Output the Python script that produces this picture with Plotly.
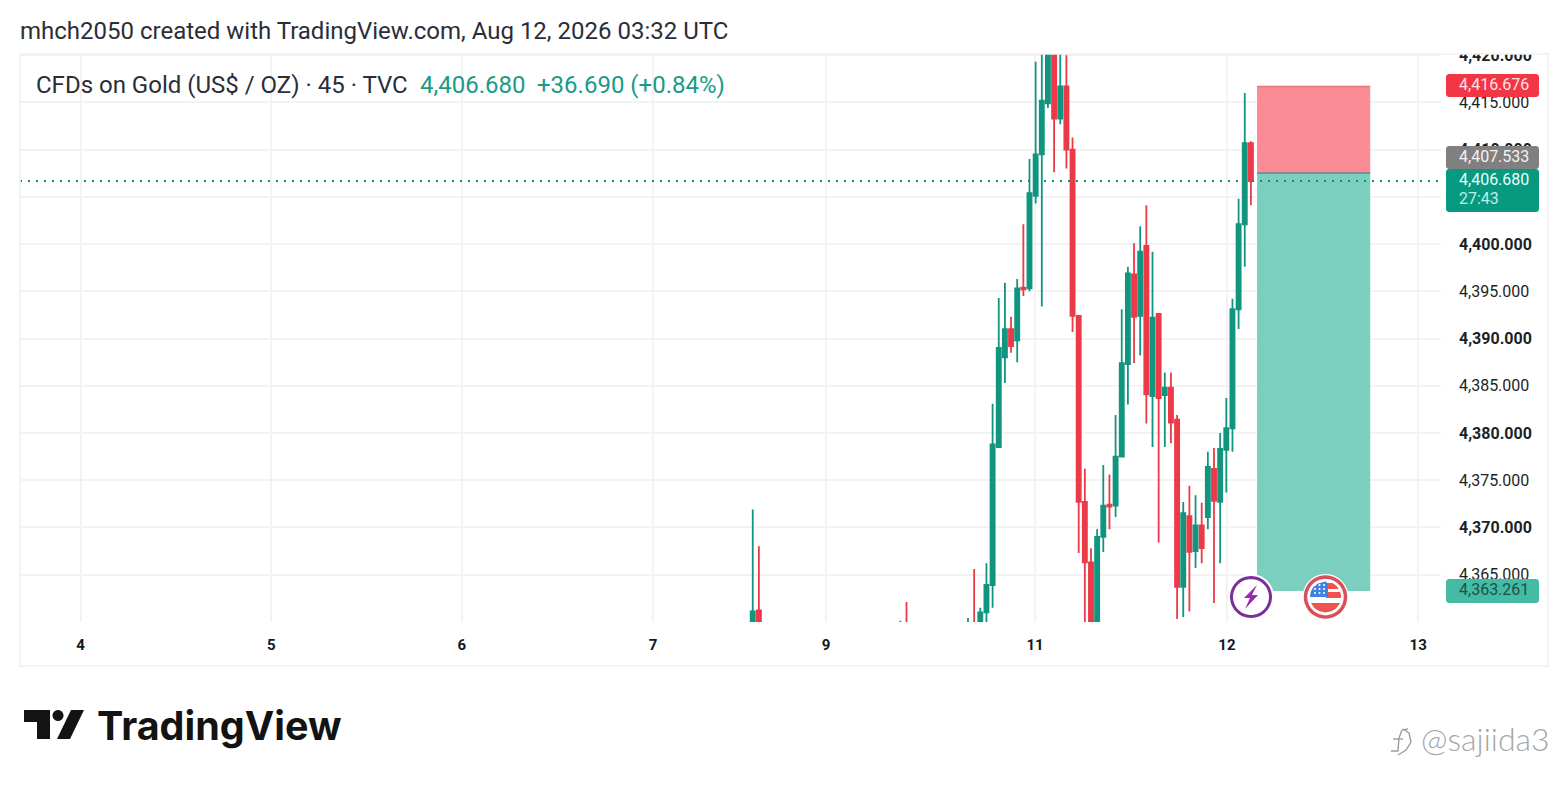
import math
import plotly.graph_objects as go

# ---------- data ----------
bar_index = [-35, -34, -11, -10] + list(range(0, 47))
opens = [4358.0, 4361.2, 4355.0, 4358.0, 4356.0, 4358.0, 4358.0, 4361.0, 4363.9, 4378.5, 4388.0, 4391.0, 4389.8, 4395.4,
         4395.3, 4405.1, 4409.5, 4414.9, 4424.0, 4413.3, 4416.7, 4410.0, 4392.4, 4372.7, 4366.3, 4358.0, 4369.0, 4372.4,
         4372.3, 4377.5, 4387.3, 4396.8, 4392.4, 4399.8, 4383.9, 4392.6, 4384.0, 4384.8, 4381.4, 4363.7, 4371.2, 4367.5,
         4370.2, 4371.1, 4376.2, 4372.7, 4378.2, 4380.5, 4393.1, 4402.1, 4410.7]
highs = [4371.9, 4368.0, 4360.1, 4362.1, 4360.4, 4365.6, 4361.5, 4366.2, 4383.1, 4394.3, 4395.9, 4392.3, 4396.3, 4402.1,
         4409.0, 4419.3, 4424.0, 4426.0, 4426.0, 4424.0, 4420.0, 4411.3, 4392.4, 4376.2, 4367.8, 4369.8, 4376.6, 4375.6,
         4381.9, 4393.1, 4397.6, 4400.1, 4401.9, 4404.1, 4399.2, 4392.6, 4386.4, 4386.4, 4381.9, 4372.7, 4374.4, 4373.4,
         4372.6, 4378.0, 4378.4, 4380.0, 4383.7, 4394.2, 4404.8, 4416.0, 4410.9]
lows = [4357.0, 4356.0, 4354.0, 4354.0, 4355.0, 4354.0, 4357.0, 4359.7, 4361.5, 4378.4, 4385.3, 4388.5, 4387.5, 4394.5,
        4395.0, 4404.3, 4393.4, 4414.4, 4407.6, 4412.7, 4408.0, 4390.7, 4367.3, 4356.0, 4356.0, 4356.0, 4367.4, 4369.8,
        4371.1, 4377.4, 4383.0, 4387.4, 4388.2, 4381.0, 4378.5, 4368.4, 4378.5, 4378.9, 4360.3, 4360.5, 4361.1, 4365.7,
        4366.2, 4369.8, 4362.0, 4366.2, 4373.7, 4378.0, 4391.0, 4397.6, 4404.1]
closes = [4361.1, 4357.0, 4357.0, 4356.0, 4358.0, 4356.0, 4361.0, 4363.9, 4378.8, 4389.0, 4391.0, 4389.2, 4395.3, 4395.2,
          4405.4, 4409.5, 4415.2, 4424.0, 4413.3, 4416.7, 4410.0, 4392.4, 4372.7, 4366.3, 4358.0, 4369.0, 4372.3, 4372.2,
          4377.5, 4387.4, 4396.9, 4392.3, 4399.2, 4384.1, 4392.2, 4383.7, 4384.8, 4381.1, 4363.7, 4371.5, 4367.4, 4370.2,
          4367.8, 4376.4, 4372.8, 4378.3, 4380.5, 4393.1, 4402.1, 4410.7, 4406.68]

day_ticks = [-144.3, -113.3, -82.3, -51.2, -23.1, 10.9, 42.1, 73.2]
day_labels = ["4", "5", "6", "7", "9", "11", "12", "13"]
price_ticks = [4365, 4370, 4375, 4380, 4385, 4390, 4395, 4400, 4405, 4410, 4415, 4420]
price_labels = ["4,365.000", "<b>4,370.000</b>", "4,375.000", "<b>4,380.000</b>", "4,385.000", "<b>4,390.000</b>",
                "4,395.000", "<b>4,400.000</b>", "", "<b>4,410.000</b>", "4,415.000", "<b>4,420.000</b>"]

stop_price, entry_price, last_price, target_price = 4416.676, 4407.533, 4406.68, 4363.261
box_start, box_end = 47.0, 65.4

# ---------- page layout helpers (screen pixels to paper units) ----------
L, R, T, B = 20, 1441, 54, 622
GREEN, RED = "#11957F", "#EC3A49"
def px(x): return (x - L) / (R - L)
def py(y): return (B - y) / (B - T)

def path(points, close=True):
    s = "M" + " L".join(f"{px(x):.5f},{py(y):.5f}" for x, y in points)
    return s + (" Z" if close else "")

def rounded(x0, y0, x1, y1, r=3):
    pts = []
    for cx, cy, a0 in ((x1 - r, y0 + r, -90), (x1 - r, y1 - r, 0), (x0 + r, y1 - r, 90), (x0 + r, y0 + r, 180)):
        for k in range(5):
            a = math.radians(a0 + k * 22.5)
            pts.append((cx + r * math.cos(a), cy + r * math.sin(a)))
    return path(pts)

def circle(cx, cy, r, n=48):
    return path([(cx + r * math.cos(2 * math.pi * i / n), cy + r * math.sin(2 * math.pi * i / n)) for i in range(n)])

def band(cx, cy, r, y0, y1, x_min=None, x_max=None):
    """Horizontal stripe of a flag, clipped to its circle."""
    left, right = [], []
    for i in range(9):
        y = y0 + (y1 - y0) * i / 8
        w = math.sqrt(max(r * r - (y - cy) ** 2, 0))
        a = cx - w if x_min is None else max(cx - w, x_min)
        b = cx + w if x_max is None else min(cx + w, x_max)
        left.append((a, y))
        right.append((b, y))
    return path(right + left[::-1])

shapes = []
def add(p, fill, line=None, width=0, layer="above"):
    shapes.append(dict(type="path", xref="paper", yref="paper", path=p, fillcolor=fill, layer=layer,
                       line=dict(color=line or "rgba(0,0,0,0)", width=width)))

# position boxes
shapes += [
    dict(type="rect", xref="x", yref="y", x0=box_start, x1=box_end, y0=entry_price, y1=stop_price,
         fillcolor="#FB8C95", line=dict(width=0), layer="above"),
    dict(type="rect", xref="x", yref="y", x0=box_start, x1=box_end, y0=target_price, y1=entry_price,
         fillcolor="#7ACFBF", line=dict(width=0), layer="above"),
    dict(type="line", xref="x", yref="y", x0=box_start, x1=box_end, y0=stop_price, y1=stop_price,
         line=dict(color="#E8737D", width=1.5), layer="above"),
    dict(type="line", xref="x", yref="y", x0=box_start, x1=box_end, y0=entry_price, y1=entry_price,
         line=dict(color="#8A8A8A", width=2), layer="above"),
    dict(type="line", xref="paper", yref="y", x0=0, x1=1, y0=last_price, y1=last_price,
         line=dict(color="#0E8F7C", width=2, dash="2px,6px"), layer="above"),
]

# mask over the clipped top tick label, then price tags
add(path([(1450, 36), (1540, 36), (1540, 54), (1450, 54)]), "white")
add(rounded(1446, 74, 1539, 97), "#F23645")
add(rounded(1446, 146, 1539, 169), "#808080")
add(rounded(1446, 169, 1539, 212), "#089981")
add(rounded(1446, 579, 1539, 603), "#44BBA4")

# outer frame
add(path([(20, 54), (1548, 54), (1548, 666), (20, 666)]), "rgba(0,0,0,0)", "#F1F1F1", 1.5)

# lightning icon
add(circle(1251, 597, 23), "white")
add(circle(1251, 597, 19.5), "white", "#7B2F98", 3)
add(path([(1257, 585), (1244, 598), (1250, 598), (1245, 609), (1258, 595), (1252, 595)]), "#9C27B0")

# flag icon
fx, fy, fr = 1325.5, 597, 20
add(circle(fx, fy, 23), "white")
add(band(fx, fy, 15.5, 583, 589, 1326), "#EF5350")
add(band(fx, fy, 15.5, 592, 598, 1326), "#EF5350")
add(band(fx, fy, 15.5, 581.5, 597, None, 1328), "#3F80E0")
add(band(fx, fy, 15.5, 603, 612.5), "#EF5350")
add(circle(fx, fy, fr), "rgba(0,0,0,0)", "#D9505A", 3.5)
for yy in (585, 589, 593):
    for xx in (1315, 1319.5, 1324):
        add(circle(xx, yy, 1.1, 8), "white")

# TradingView logo mark
INK = "#131313"
add(path([(24, 710), (50, 710), (50, 739), (37, 739), (37, 722), (24, 722)]), INK)
add(circle(58, 715.5, 5.5), INK)
add(path([(71, 710), (84, 710), (70, 739), (57, 739)]), INK)

# watermark mark
MARK = "#9E9E9E"
add(path([(1391, 751), (1398, 751), (1399, 738), (1402, 730), (1408, 729)], close=False), "rgba(0,0,0,0)", MARK, 1.4)
add(path([(1403, 729), (1409, 733), (1411, 742), (1406, 750), (1398, 755)], close=False), "rgba(0,0,0,0)", MARK, 1.4)
add(path([(1393, 739), (1403, 739)], close=False), "rgba(0,0,0,0)", MARK, 1.4)

def note(x, y, text, size, color, anchor="left", family="Roboto", weight=None):
    font = dict(family=family, size=size, color=color)
    if weight:
        font["weight"] = weight
    return dict(xref="paper", yref="paper", x=px(x), y=py(y), text=text, showarrow=False, xanchor=anchor,
                yanchor="middle", align="left", font=font)

annotations = [
    note(18, 31, "mhch2050 created with TradingView.com, Aug 12, 2026 03:32 UTC", 24, "#2A2E39"),
    note(34, 85, "CFDs on Gold (US$ / OZ) · 45 · TVC", 24, "#2A2E39"),
    note(418, 85, "4,406.680", 24, "#1A9A87"),
    note(535, 85, "+36.690 (+0.84%)", 24, "#1A9A87"),
    note(1457, 85, "4,416.676", 16, "#FFE3E5"),
    note(1457, 156.5, "4,407.533", 16, "#F2F2F2"),
    note(1457, 179.5, "4,406.680", 16, "#E8FFFA"),
    note(1457, 198.5, "27:43", 16, "#BDEFE4"),
    note(1457, 589, "4,363.261", 16, "#1E4F49"),
    note(94.5, 726, "TradingView", 39.5, "#131313", family="Inter", weight=700),
    note(1419, 738, "@sajiida3", 32, "#A6A6A6", family="Lato", weight=300),
]

fig = go.Figure(go.Candlestick(
    x=bar_index, open=opens, high=highs, low=lows, close=closes,
    increasing=dict(line=dict(color=GREEN, width=1.8), fillcolor=GREEN),
    decreasing=dict(line=dict(color=RED, width=1.8), fillcolor=RED),
    whiskerwidth=0, hoverinfo="skip",
))
fig.update_layout(
    width=1568, height=786, autosize=False, showlegend=False,
    paper_bgcolor="white", plot_bgcolor="white", boxgap=0.05,
    margin=dict(l=L, r=1568 - R, t=T, b=786 - B, pad=0),
    font=dict(family="Roboto", color="#131722"),
    shapes=shapes, annotations=annotations,
    xaxis=dict(range=[(L - 968) / 6.15, (R - 968) / 6.15], rangeslider=dict(visible=False),
               tickmode="array", tickvals=day_ticks, ticktext=[f"<b>{t}</b>" for t in day_labels],
               tickfont=dict(size=15, color="#131722"), ticks="", showline=False, zeroline=False,
               showgrid=True, gridcolor="#F3F3F3", gridwidth=1.5, ticklabelstandoff=12),
    yaxis=dict(range=[4359.98, 4420.13], side="right", tickmode="array", tickvals=price_ticks,
               ticktext=price_labels, tickfont=dict(size=16, color="#1C1F26"), ticks="", showline=False,
               zeroline=False, showgrid=True, gridcolor="#F3F3F3", gridwidth=1.5, ticklabelstandoff=17,
               fixedrange=True),
)
fig.write_html("out.html", config={"displayModeBar": False},
               post_script="document.body.style.margin='0';")
